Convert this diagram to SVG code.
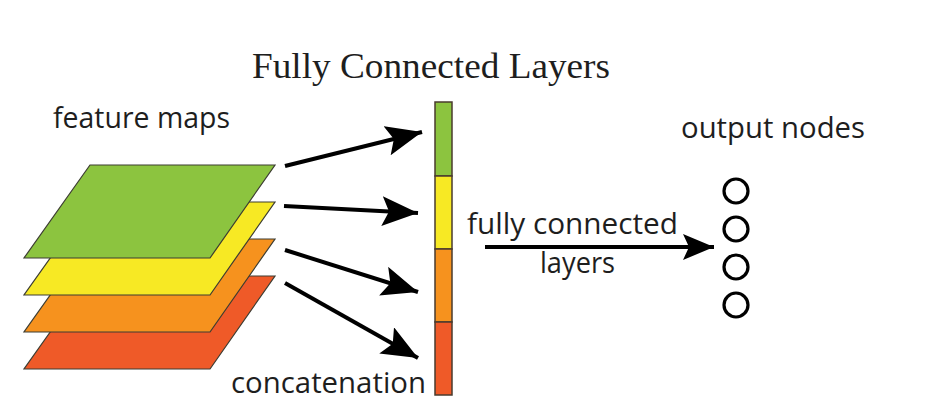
<svg xmlns="http://www.w3.org/2000/svg" width="927" height="400" viewBox="0 0 927 400">
<style>
.sans{font-family:"Open Sans","Liberation Sans",sans-serif;fill:#1e1e1e;font-size:29px}
.serif{font-family:"Liberation Serif","DejaVu Serif",serif;fill:#1e1e1e;font-size:35px}
.map{stroke:#3c3c32;stroke-width:1.2}
.seg{stroke:#4a3b2e;stroke-width:1.5}
.arr{stroke:#000;stroke-width:4;fill:none;marker-end:url(#ah)}
.arr2{stroke:#000;stroke-width:4;fill:none;marker-end:url(#ah2)}
.node{fill:#fff;stroke:#000;stroke-width:3.2}
</style>
<defs>
<marker id="ah" markerUnits="userSpaceOnUse" markerWidth="40" markerHeight="34" refX="36" refY="15" orient="auto" viewBox="0 0 40 34">
<path d="M0,0 L36,15 L0,30 L7,15 Z" fill="#000"/>
</marker>
<marker id="ah2" markerUnits="userSpaceOnUse" markerWidth="34" markerHeight="30" refX="31" refY="13" orient="auto" viewBox="0 0 34 30">
<path d="M0,0 L31,13 L0,26 L6,13 Z" fill="#000"/>
</marker>
</defs>
<rect width="927" height="400" fill="#fff"/>
<g id="title"><text class="serif" x="252" y="78" textLength="358" lengthAdjust="spacingAndGlyphs">Fully Connected Layers</text></g>
<g id="feature-maps">
<text class="sans" x="53" y="128" textLength="177" lengthAdjust="spacingAndGlyphs">feature maps</text>
<polygon class="map" fill="#ef5a28" points="90,276 275,276 210,369 24,369"/>
<polygon class="map" fill="#f6921e" points="90,239 275,239 210,332 24,332"/>
<polygon class="map" fill="#f7e924" points="90,202 275,202 210,295 24,295"/>
<polygon class="map" fill="#8cc43f" points="90,165 275,165 210,258 24,258"/>
</g>
<g id="concat-bar">
<rect class="seg" fill="#8cc43f" x="435" y="102" width="17" height="74"/>
<rect class="seg" fill="#f7e924" x="435" y="176" width="17" height="73"/>
<rect class="seg" fill="#f6921e" x="435" y="249" width="17" height="73"/>
<rect class="seg" fill="#ef5a28" x="435" y="322" width="17" height="73"/>
<text class="sans" x="231" y="393" textLength="195" lengthAdjust="spacingAndGlyphs">concatenation</text>
</g>
<g id="output-nodes">
<text class="sans" x="681" y="138" textLength="184" lengthAdjust="spacingAndGlyphs">output nodes</text>
<circle class="node" cx="736" cy="191" r="12"/>
<circle class="node" cx="736" cy="229" r="12"/>
<circle class="node" cx="736" cy="267" r="12"/>
<circle class="node" cx="736" cy="305" r="12"/>
</g>
<g id="connectors">
<line class="arr" x1="285" y1="166" x2="422" y2="132"/>
<line class="arr" x1="284" y1="206" x2="418" y2="213"/>
<line class="arr" x1="285" y1="250" x2="418" y2="292"/>
<line class="arr" x1="285" y1="283" x2="418" y2="358"/>
<line class="arr2" x1="485" y1="247" x2="714" y2="247"/>
<text class="sans" x="467" y="234" textLength="211" lengthAdjust="spacingAndGlyphs">fully connected</text>
<text class="sans" x="540" y="273" textLength="75" lengthAdjust="spacingAndGlyphs">layers</text>
</g>
</svg>
